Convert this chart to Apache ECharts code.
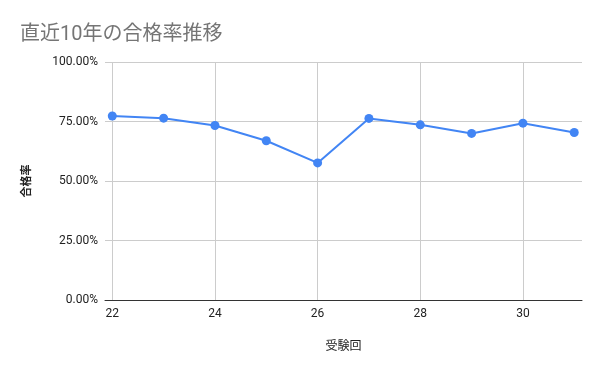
<!DOCTYPE html>
<html><head><meta charset="utf-8">
<script src="https://cdn.jsdelivr.net/npm/echarts@6/dist/echarts.min.js"></script>
<style>html,body{margin:0;padding:0;background:#fff}#c{width:600px;height:371px}</style>
</head><body><div id="c"></div>
<script>
const titleText = "直近10年の合格率推移";
const xName = "受験回";
const yName = "合格率";
const rounds = [22, 23, 24, 25, 26, 27, 28, 29, 30, 31];
const passRates = [0.773, 0.764, 0.733, 0.669, 0.576, 0.763, 0.736, 0.700, 0.743, 0.704];
const xTicks = [22, 24, 26, 28, 30];

const chart = echarts.init(document.getElementById('c'), null, {renderer: 'canvas'});
chart.setOption({
  animation: false,
  backgroundColor: '#fff',
  title: {
    text: titleText, left: 15, top: 20,
    textStyle: {fontFamily: 'Roboto, "Noto Sans CJK JP", sans-serif', fontSize: 20, fontWeight: 'normal', color: '#757575'}
  },
  grid: {left: 105, right: 18, top: 62, bottom: 71, containLabel: false},
  xAxis: {
    type: 'value', min: 21.858, max: 31.151,
    name: xName, nameLocation: 'middle', nameGap: 39,
    nameTextStyle: {fontFamily: '"Noto Sans CJK JP", sans-serif', fontSize: 12, color: '#222', fontWeight: 'normal'},
    axisLine: {show: true, lineStyle: {color: '#333', width: 1}},
    axisTick: {show: false, customValues: xTicks},
    axisLabel: {customValues: xTicks, fontFamily: 'Roboto, sans-serif', fontSize: 12, color: '#222', margin: 8},
    splitLine: {show: true, lineStyle: {color: '#cccccc', width: 1}}
  },
  yAxis: {
    type: 'value', min: 0, max: 1, interval: 0.25,
    name: yName, nameLocation: 'middle', nameGap: 74, nameRotate: 90,
    nameTextStyle: {fontFamily: '"Noto Sans CJK JP", sans-serif', fontSize: 11, color: '#222', fontWeight: 'bold'},
    axisLine: {show: false},
    axisTick: {show: false},
    axisLabel: {formatter: v => (v * 100).toFixed(2) + '%', fontFamily: 'Roboto, sans-serif', fontSize: 12, color: '#222', margin: 7},
    splitLine: {show: true, lineStyle: {color: '#cccccc', width: 1}}
  },
  series: [{
    type: 'line',
    data: rounds.map((r, i) => [r, passRates[i]]),
    symbol: 'circle', symbolSize: 9,
    lineStyle: {color: '#4285F4', width: 2},
    itemStyle: {color: '#4285F4'},
    z: 3
  }]
});
</script></body></html>
